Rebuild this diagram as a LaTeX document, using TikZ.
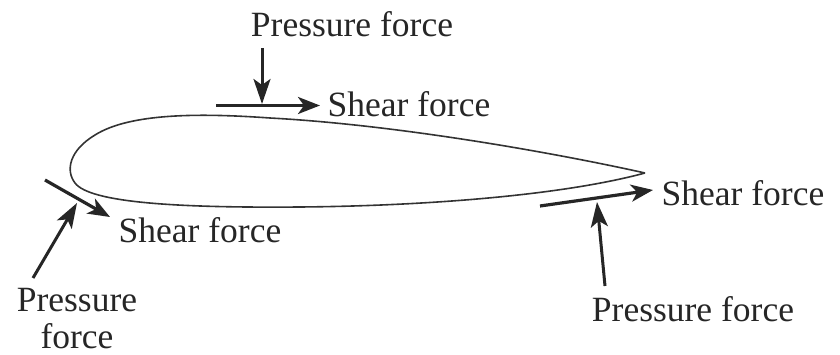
\documentclass[tikz,border=0pt]{standalone}
\usepackage{fontspec}
\setmainfont{Liberation Serif}
\usetikzlibrary{arrows.meta}
\tikzset{
 lab/.style={font=\fontsize{35.5}{37}\selectfont,text=black!85,inner sep=0pt,align=center},
 plate/.style={line width=3.2pt,black!85,-{Stealth[length=22pt,width=17pt,inset=6pt]}},
 force/.style={line width=3pt,black!85,-{Stealth[length=25pt,width=17pt,inset=6pt]}},
 foil/.style={line width=1.6pt,black!80}
}
\begin{document}
\begin{tikzpicture}[x=1pt,y=-1pt]
\useasboundingbox (0,0) rectangle (840,355);
\node[lab] (p1) at (352,24) {Pressure force};
\node[lab] (s1) at (409,104) {Shear force};
\node[lab] (s2) at (743,193) {Shear force};
\node[lab] (s3) at (200,230) {Shear force};
\node[lab] (p2) at (693,309) {Pressure force};
\node[lab] (p3) at (77,319) {Pressure\\force};
\coordinate (a1s) at (262,48); \coordinate (a1e) at (262,104);
\coordinate (b1s) at (216,105.5); \coordinate (b1e) at (320,105.5);
\coordinate (a2s) at (33,278); \coordinate (a2e) at (77,203);
\coordinate (b2s) at (45,180); \coordinate (b2e) at (110,217);
\coordinate (a3s) at (605,286); \coordinate (a3e) at (597,202);
\coordinate (b3s) at (540,206); \coordinate (b3e) at (653,190);
\draw[foil] (645,173) .. controls (560,154) and (400,125) .. (270,118)
 .. controls (200,113) and (130,113) .. (95,135)
 .. controls (70,150) and (65,170) .. (75,183)
 .. controls (90,203) and (180,208) .. (300,207)
 .. controls (420,206) and (560,196) .. (645,173);
\draw[force] (a1s) -- (a1e);
\draw[plate] (b1s) -- (b1e);
\draw[force] (a2s) -- (a2e);
\draw[plate] (b2s) -- (b2e);
\draw[force] (a3s) -- (a3e);
\draw[plate] (b3s) -- (b3e);
\end{tikzpicture}
\end{document}
